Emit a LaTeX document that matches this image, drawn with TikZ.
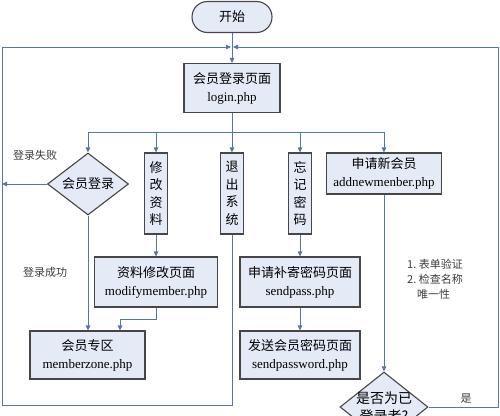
\documentclass[tikz,border=0pt]{standalone}
\usepackage{fontspec}
\setmainfont{Liberation Serif}
\newfontfamily\cjk{Noto Sans CJK SC}
\usetikzlibrary{shapes.geometric,arrows.meta}
\definecolor{boxfill}{RGB}{228,234,246}
\definecolor{boxline}{RGB}{70,70,70}
\definecolor{flow}{RGB}{84,118,168}
\definecolor{etiqtext}{RGB}{60,60,60}

\begin{document}
\begin{tikzpicture}  % ------ Gestion des membres --------------
      [x=1pt,y=-1pt,
       box/.style={draw=boxline,line width=1.1pt,fill=boxfill,inner sep=0pt,
                   align=center,font=\fontsize{13}{18}\selectfont},
       vbox/.style={box,minimum width=23pt,minimum height=81pt,
                    font=\fontsize{13}{17.5}\selectfont\cjk},
       cond/.style={box,diamond,aspect=1.3},
       etiq/.style={text=etiqtext,inner sep=0pt,font=\fontsize{11}{15}\selectfont\cjk},
       lien/.style={draw=flow,line width=0.8pt},
       arr/.style={lien,-{Triangle[length=5pt,width=4.5pt]}}]
    \useasboundingbox (0,0) rectangle (500,415);

    \coordinate (J1) at (231,47);
    \coordinate (J2) at (233,47);
    \coordinate (B) at (232,132);
    \coordinate (C1) at (2,405);
    \coordinate (C2) at (2,47);
    \coordinate (C3) at (2,184);
    \coordinate (C4) at (498,47);

    \node[box,rounded corners=15.5pt,minimum width=80pt,minimum height=31pt] (debut) at (232,17) {\cjk 开始};
    \node[box,minimum width=96pt,minimum height=49pt] (login) at (232,88) {{\cjk 会员登录页面}\\login.php};

    \node[cond,minimum width=81pt,minimum height=62pt] (check) at (88,184) {\cjk 会员登录};
    \node[vbox] (modify) at (156,193.5) {修\\改\\资\\料};
    \node[vbox] (logout) at (232,193.5) {退\\出\\系\\统};
    \node[vbox] (forgot) at (300,193.5) {忘\\记\\密\\码};
    \node[box,minimum width=115pt,minimum height=41pt] (newm) at (384,173.5) {{\cjk 申请新会员}\\addnewmenber.php};

    \node[box,minimum width=123pt,minimum height=50pt] (mpage) at (156,282) {{\cjk 资料修改页面}\\modifymember.php};
    \node[box,minimum width=115pt,minimum height=48pt] (mzone) at (87.5,355) {{\cjk 会员专区}\\memberzone.php};
    \node[box,minimum width=120pt,minimum height=50pt] (spage) at (300,282) {{\cjk 申请补寄密码页面}\\sendpass.php};
    \node[box,minimum width=120pt,minimum height=48pt] (spw) at (300,355) {{\cjk 发送会员密码页面}\\sendpassword.php};
    \node[cond,inner sep=-6pt,minimum width=88pt,minimum height=70pt,
          font=\fontsize{14}{18}\selectfont\cjk] (check2) at (384,407) {是否为已\\登录者?};

    \node[etiq] (echec) at (35,155) {登录失败};
    \node[etiq] (succes) at (45,272) {登录成功};
    \node[etiq,align=left,anchor=north west] (verif) at (407,259) {1.\ 表单验证\\2.\ 检查名称\\\hspace*{0.9em}唯一性};
    \node[etiq] (oui) at (466,399) {是};

    \draw[arr] (debut) -- (login);
    \draw[arr] (login) -- (logout);
    \draw[arr] (B) -| (check.north);
    \draw[arr] (B) -| (modify.north);
    \draw[arr] (B) -| (forgot.north);
    \draw[arr] (B) -| (newm.north);
    \draw[arr] (check.west) -- (C3);
    \draw[arr] (check.south) -- (check.south |- mzone.north);
    \draw[arr] (modify) -- (mpage);
    \draw[arr] (mpage.south) -- ++(0,12) -| ([xshift=32.5pt]mzone.north);
    \draw[arr] (forgot) -- (spage);
    \draw[arr] (spage) -- (spw);
    \draw[arr] (newm) -- (check2);
    \draw[arr] (logout.south) |- (C1) -- (C2) -- (J1);
    \draw[arr] (check2.east) -| (C4) -- (J2);
\end{tikzpicture}
\end{document}
